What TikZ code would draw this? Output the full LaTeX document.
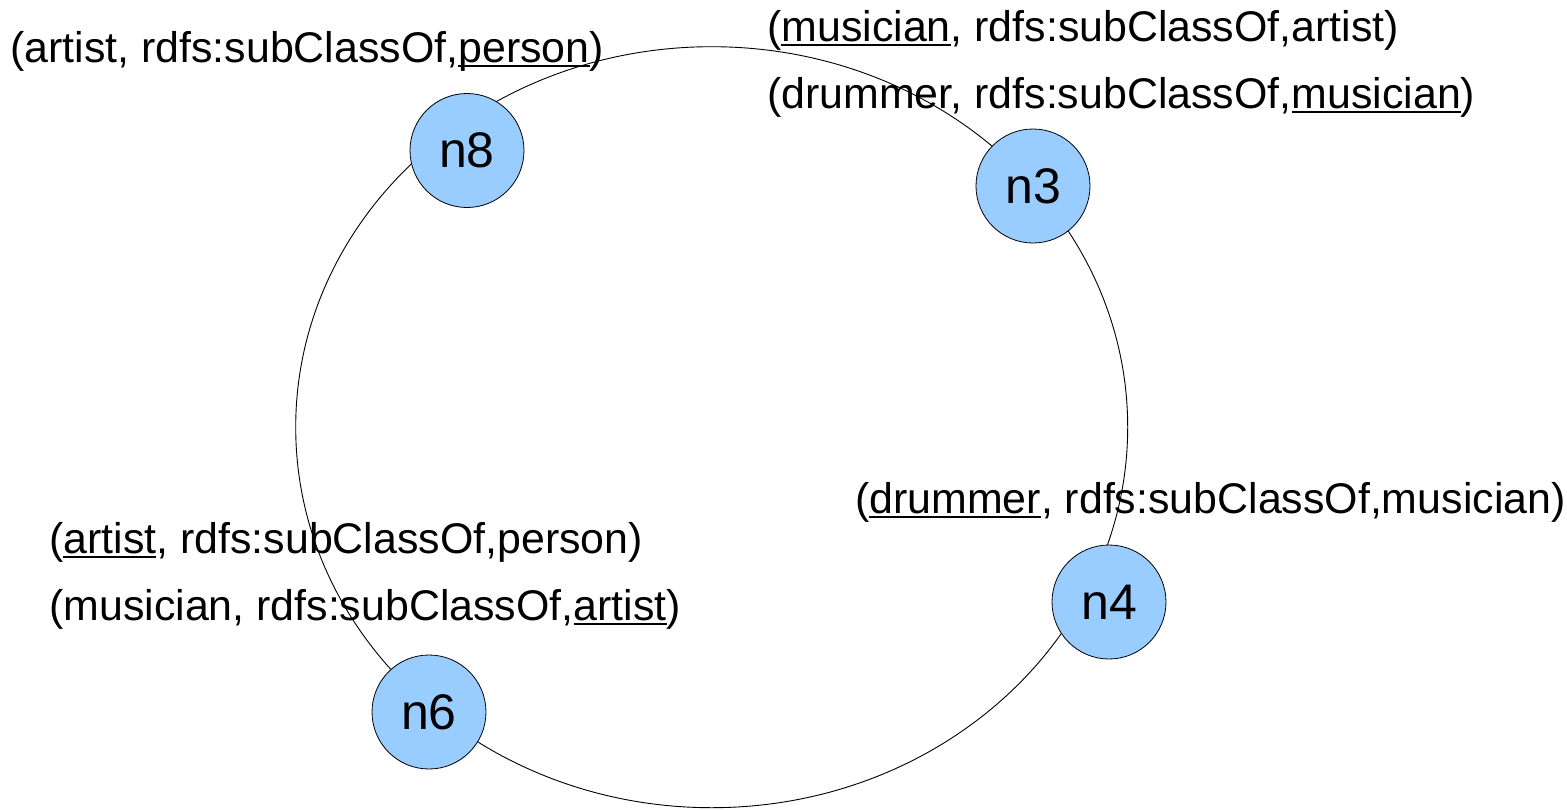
\documentclass[tikz,border=0pt]{standalone}
\usepackage{fontspec}
\setmainfont{Liberation Sans}
\newsavebox\ulbox
\newcommand\myul[1]{\sbox\ulbox{#1}\rlap{\vrule height -3pt depth 5pt width \wd\ulbox}\usebox\ulbox}
\definecolor{nodeblue}{HTML}{99CCFF}
\tikzset{
  peer/.style={circle, draw=black, line width=0.8pt, fill=nodeblue, minimum size=114pt, inner sep=0pt, font=\fontsize{50}{58}\selectfont},
  triple/.style={anchor=base west, inner sep=0pt, font=\fontsize{42.9}{50}\selectfont},
  ring/.style={draw=black, line width=0.9pt}
}
\begin{document}
\begin{tikzpicture}[x=1pt,y=-1pt]
\useasboundingbox (0,0) rectangle (1567,809);
\coordinate (c) at (711.7,427.2);
\draw[ring] (c) ellipse [x radius=416pt, y radius=380.5pt];
\node[peer] (n8) at (467,150.5) {n8};
\node[peer] (n3) at (1033,186) {n3};
\node[peer] (n4) at (1109,602) {n4};
\node[peer] (n6) at (429,712) {n6};
\node[triple] (t1) at (10,62) {(artist, rdfs:subClassOf,\myul{person})};
\node[triple] (t2) at (767,41) {(\myul{musician}, rdfs:subClassOf,artist)};
\node[triple] (t3) at (767,108) {(drummer, rdfs:subClassOf,\myul{musician})};
\node[triple] (t4) at (855,513) {(\myul{drummer}, rdfs:subClassOf,musician)};
\node[triple] (t5) at (49,553) {(\myul{artist}, rdfs:subClassOf,person)};
\node[triple] (t6) at (49,620) {(musician, rdfs:subClassOf,\myul{artist})};
\end{tikzpicture}
\end{document}
